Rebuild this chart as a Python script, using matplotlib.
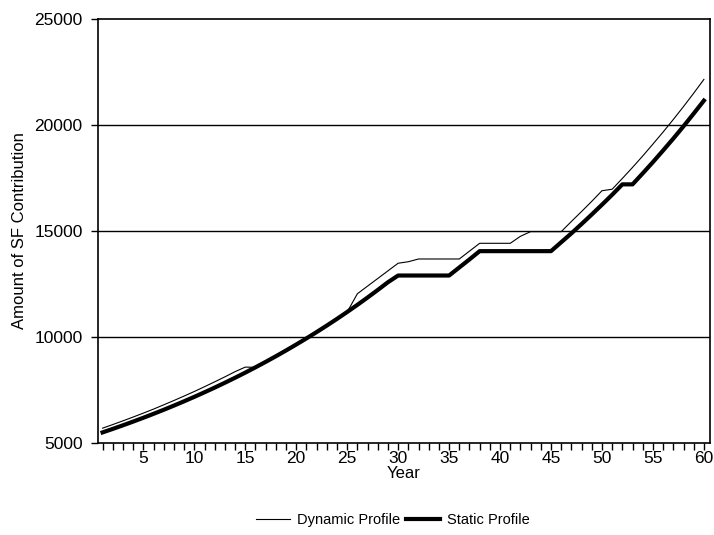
import matplotlib.pyplot as plt
from matplotlib.ticker import MultipleLocator

plt.rcParams['font.family'] = ['Liberation Sans', 'DejaVu Sans']

years = list(range(1, 61))

# Static profile (thick line)
static = [5500, 5665, 5835, 6010, 6190, 6376, 6567, 6764, 6967, 7176,
          7392, 7613, 7842, 8077, 8319, 8569, 8826, 9091, 9364, 9645,
          9934, 10232, 10539, 10855, 11181, 11516, 11862, 12218, 12584, 12900,
          12900, 12900, 12900, 12900, 12900, 13280, 13660, 14050, 14050, 14050,
          14050, 14050, 14050, 14050, 14050, 14470, 14890, 15330, 15780, 16240,
          16710, 17200, 17200, 17720, 18250, 18800, 19360, 19940, 20540, 21150]

# Dynamic profile (thin line)
dynamic = [5700, 5870, 6045, 6225, 6410, 6600, 6800, 7005, 7215, 7430,
           7655, 7885, 8120, 8365, 8580, 8569, 8826, 9091, 9364, 9645,
           9934, 10232, 10539, 10855, 11181, 12040, 12400, 12760, 13120, 13480,
           13550, 13680, 13680, 13680, 13680, 13680, 14050, 14420, 14420, 14420,
           14420, 14750, 14970, 14970, 14970, 14970, 15450, 15920, 16400, 16900,
           16970, 17480, 18000, 18540, 19100, 19670, 20260, 20870, 21500, 22150]

fig = plt.figure(figsize=(7.14, 5.35), dpi=100)
ax = fig.add_axes([98/714, 1-443/535, 612/714, 424/535])

for v in [10000, 15000, 20000]:
    ax.axhline(v, color='black', lw=1.0, zorder=1)

l1, = ax.plot(years, dynamic, color='black', lw=0.8, label='Dynamic Profile', zorder=3)
l2, = ax.plot(years, static, color='black', lw=3.0, label='Static Profile', zorder=2)

ax.set_xlim(0.55, 60.6)
ax.set_ylim(5000, 25000)
ax.set_yticks([5000, 10000, 15000, 20000, 25000])
ax.set_xticks(range(5, 61, 5))
ax.xaxis.set_minor_locator(MultipleLocator(1))
ax.tick_params(axis='both', which='major', labelsize=12.5, length=5, width=1.0, direction='out')
ax.tick_params(axis='x', which='minor', length=5, width=1.0, direction='out')
ax.tick_params(axis='x', pad=1)
ax.tick_params(axis='y', pad=6)

for s in ax.spines.values():
    s.set_linewidth(1.2)

ax.set_xlabel('Year', fontsize=12, labelpad=0)
ax.set_ylabel('Amount of SF Contribution', fontsize=12, labelpad=5)

fig.legend(handles=[l1, l2], loc='center', bbox_to_anchor=(393/714, 1-520/535),
           ncol=2, frameon=False, fontsize=10.5, handlelength=2.3,
           columnspacing=0.4, handletextpad=0.5)

fig.savefig('out.png', dpi=100)
